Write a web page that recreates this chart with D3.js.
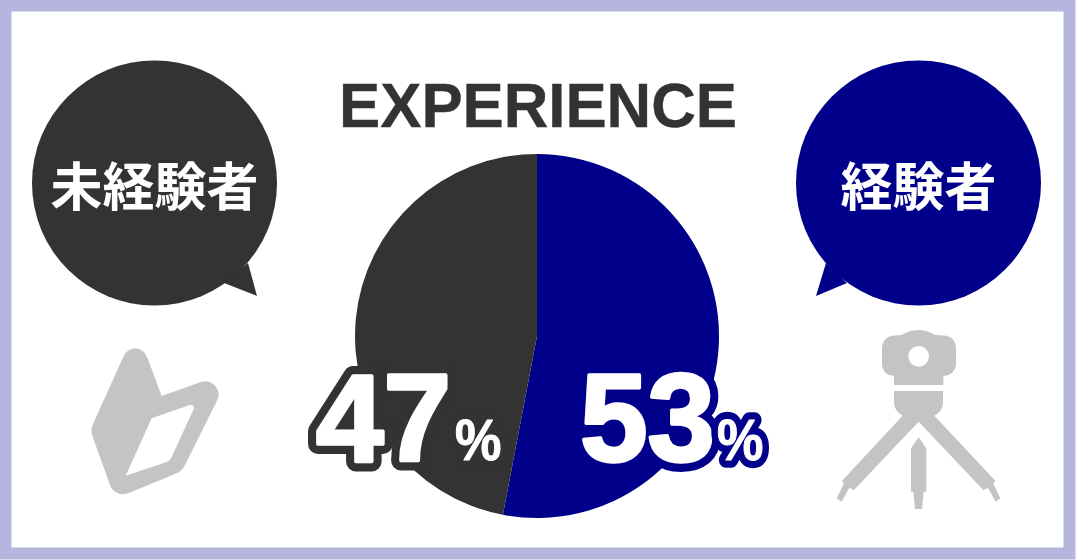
<!DOCTYPE html>
<html><head><meta charset="utf-8">
<style>html,body{margin:0;padding:0;background:#fff}svg{display:block}</style>
<script src="https://cdn.jsdelivr.net/npm/d3@7"></script></head>
<body><div id="c"></div>
<script>
const title = "EXPERIENCE";
const categories = ["経験者", "未経験者"];
const values = [53, 47];
const colors = ["#00008b", "#333333"];
const W = 1076, H = 560;
const latin = "'Liberation Sans',Arial,sans-serif";
const cjk = "'Noto Sans CJK JP','Liberation Sans',sans-serif";
const svg = d3.select("#c").append("svg").attr("width", W).attr("height", H);
svg.append("rect").attr("x", 5.5).attr("y", 5.5).attr("width", W - 12).attr("height", H - 12)
  .attr("fill", "#fff").attr("stroke", "#b5b5df").attr("stroke-width", 12);

const cx = 537, cy = 336, R = 182;
const pie = d3.pie().sort(null)(values);
const arc = d3.arc().innerRadius(0).outerRadius(R);
svg.append("g").attr("transform", `translate(${cx},${cy})`).selectAll("path").data(pie).join("path")
  .attr("d", arc).attr("fill", (d, i) => colors[i]);

svg.append("text").attr("transform", "translate(538,126.5) scale(0.98,1)").attr("text-anchor", "middle")
  .attr("font-family", latin).attr("font-weight", 700).attr("font-size", 63).attr("fill", "#333")
  .attr("stroke", "#333").attr("stroke-width", 0.4).text(title);

// speech bubbles
const bubbles = [
  {i: 1, x: 154.5, tail: "M248,263L257,296L224,283Z", size: 52},
  {i: 0, x: 918.5, tail: "M826,263L816,296L847,283Z", size: 52}
];
bubbles.forEach(b => {
  const g = svg.append("g").attr("fill", colors[b.i]);
  g.append("circle").attr("cx", b.x).attr("cy", 183).attr("r", 122.5);
  g.append("path").attr("d", b.tail);
  svg.append("text").attr("x", b.x).attr("y", 206).attr("text-anchor", "middle")
    .attr("font-family", cjk).attr("font-weight", 700).attr("font-size", b.size).attr("fill", "#fff").text(categories[b.i]);
});

// percentage labels
const labels = [
  {i: 1, nx: 316, px: 455, ny: 460.5, py: 459.5},
  {i: 0, nx: 580, px: 717, ny: 460.5, py: 459.5}
];
labels.forEach(l => {
  const add = (x, y, size, sx, str, bold, outline) => {
    const base = () => svg.append("text").attr("transform", `translate(${x},${y}) scale(${sx},1)`)
      .attr("font-family", latin).attr("font-weight", 700).attr("font-size", size)
      .attr("stroke-linejoin", "round").text(str);
    base().attr("fill", colors[l.i]).attr("stroke", colors[l.i]).attr("stroke-width", outline);
    base().attr("fill", "#fff").attr("stroke", "#fff").attr("stroke-width", bold);
  };
  add(l.nx, l.ny, 124, 0.98, values[l.i], 3.5, 20);
  add(l.px, l.py, 58, 0.9, "%", 1, 15.5);
});

// beginner mark
const ico = "#c4c4c4";
svg.append("path").attr("transform", "translate(60,330) scale(0.3333)").attr("fill", ico).attr("fill-rule", "evenodd")
  .attr("d", "M188,85Q200,55 227,55Q252,57 263,85L305,198L425,155Q450,150 468,170Q482,190 472,210L375,405Q365,425 345,432L205,490Q170,500 152,470L98,320Q90,300 100,280Z M275,265L390,225Q405,225 401,238L333,385Q330,392 322,395L197,437Z");

// tripod
const t = svg.append("g").attr("transform", "translate(820,320) scale(0.3333)").attr("fill", ico);
t.append("path").attr("fill-rule", "evenodd").attr("d", "M245,45Q295,15 345,45L380,47Q408,55 408,85V135Q405,165 370,168V195H222V168Q188,165 186,135V85Q186,55 215,47Z M296,78a31,31 0 1,0 0.1,0Z");
t.append("path").attr("d", "M222,213H369V250Q368,275 343,287L526,482L520,490L541,535L527,545L504,503L490,510L296,305L102,510L88,503L65,545L50,535L72,490L66,482L248,287Q224,275 222,250Z");
t.append("path").attr("d", "M296,352L319,385V515H311L306,567H285L280,515H273V385Z");
</script></body></html>
